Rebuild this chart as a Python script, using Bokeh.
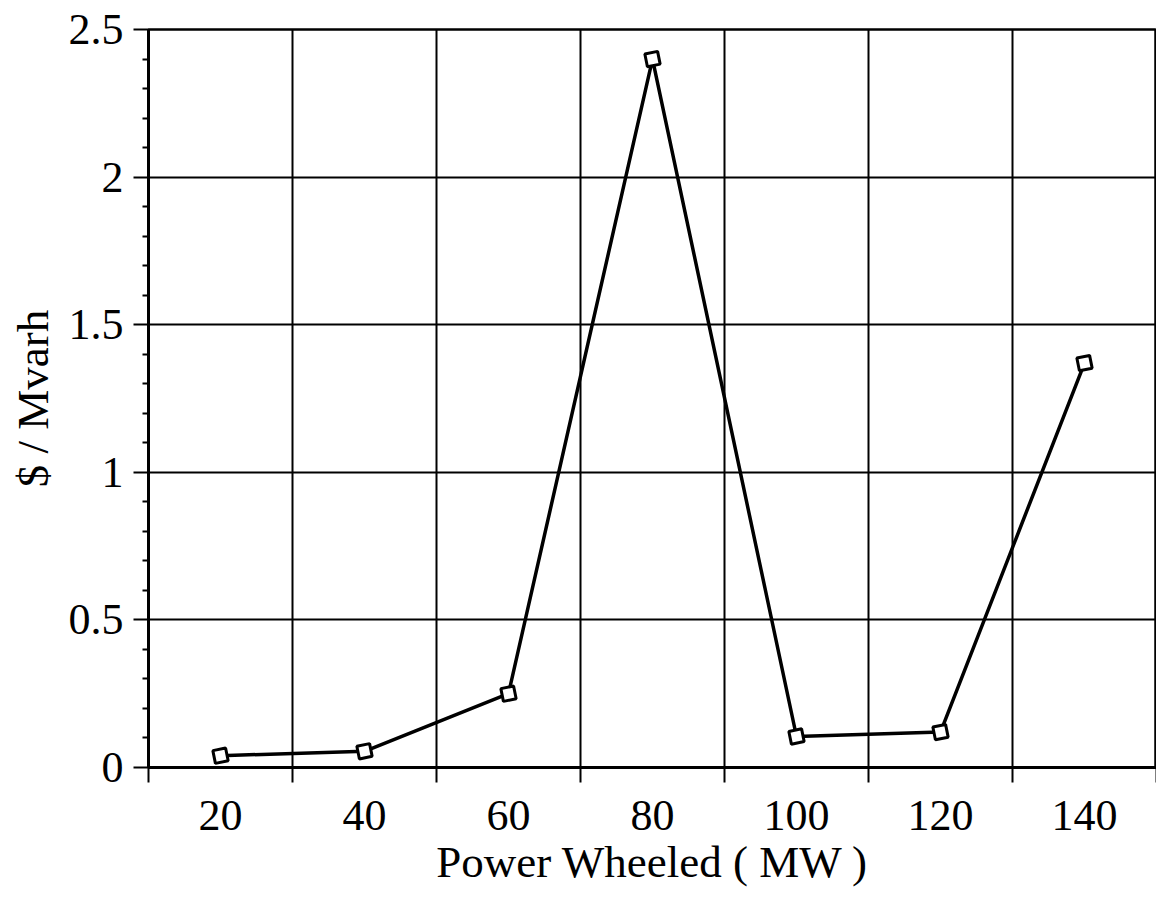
from bokeh.plotting import figure
from bokeh.models import FixedTicker, Range1d, ColumnDataSource
from bokeh.embed import file_html
from bokeh.resources import INLINE

power_mw = [20, 40, 60, 80, 100, 120, 140]
cost_per_mvarh = [0.04, 0.055, 0.25, 2.40, 0.105, 0.12, 1.37]
x_tick_labels = [20, 40, 60, 80, 100, 120, 140]
x_boundaries = [10, 30, 50, 70, 90, 110, 130, 150]
y_ticks = [0, 0.5, 1, 1.5, 2, 2.5]
y_minor = [round(i * 0.1, 1) for i in range(26) if i % 5 != 0]

FONT = "Liberation Serif"

p = figure(width=1156, height=898, output_backend="svg", toolbar_location=None,
           x_range=Range1d(10, 150), y_range=Range1d(0, 2.5),
           min_border_left=148, min_border_right=0, min_border_top=29, min_border_bottom=131)
p.background_fill_color = "white"
p.border_fill_color = "white"
p.outline_line_color = "black"
p.outline_line_width = 2.5

src = ColumnDataSource(dict(x=power_mw, y=cost_per_mvarh))
p.line("x", "y", source=src, line_color="black", line_width=3.5)
p.scatter("x", "y", source=src, marker="square", size=13, fill_color="white",
          line_color="black", line_width=3, angle=0.2)

# x axis
xa = p.xaxis[0]
xa.ticker = FixedTicker(ticks=x_tick_labels, minor_ticks=x_boundaries)
xa.major_tick_out = 0
xa.major_tick_in = 0
xa.minor_tick_out = 15
xa.minor_tick_in = 0
xa.minor_tick_line_color = "black"
xa.minor_tick_line_width = 2
xa.axis_line_width = 3
xa.axis_line_color = "black"
xa.major_label_text_font = FONT
xa.major_label_text_font_size = "44px"
xa.major_label_text_color = "black"
xa.major_label_standoff = 18
xa.axis_label = "Power Wheeled ( MW )"
xa.axis_label_text_font = FONT
xa.axis_label_text_font_size = "45px"
xa.axis_label_text_font_style = "normal"
xa.axis_label_text_color = "black"
xa.axis_label_standoff = 4

# y axis
ya = p.yaxis[0]
ya.ticker = FixedTicker(ticks=y_ticks, minor_ticks=y_minor)
ya.major_tick_out = 15
ya.major_tick_in = 0
ya.minor_tick_out = 6
ya.minor_tick_in = 0
ya.major_tick_line_width = 2
ya.minor_tick_line_width = 2
ya.axis_line_width = 3
ya.major_label_text_font = FONT
ya.major_label_text_font_size = "44px"
ya.major_label_text_color = "black"
ya.major_label_standoff = 10
ya.axis_label = "$ / Mvarh"
ya.axis_label_text_font = FONT
ya.axis_label_text_font_size = "45px"
ya.axis_label_text_font_style = "normal"
ya.axis_label_text_color = "black"
ya.axis_label_standoff = 8

p.xgrid.ticker = FixedTicker(ticks=x_boundaries)
p.ygrid.ticker = FixedTicker(ticks=y_ticks)
for g in (p.xgrid, p.ygrid):
    g.grid_line_color = "black"
    g.grid_line_width = 2
    g.grid_line_alpha = 1

open("out.html", "w").write(file_html(p, INLINE))
